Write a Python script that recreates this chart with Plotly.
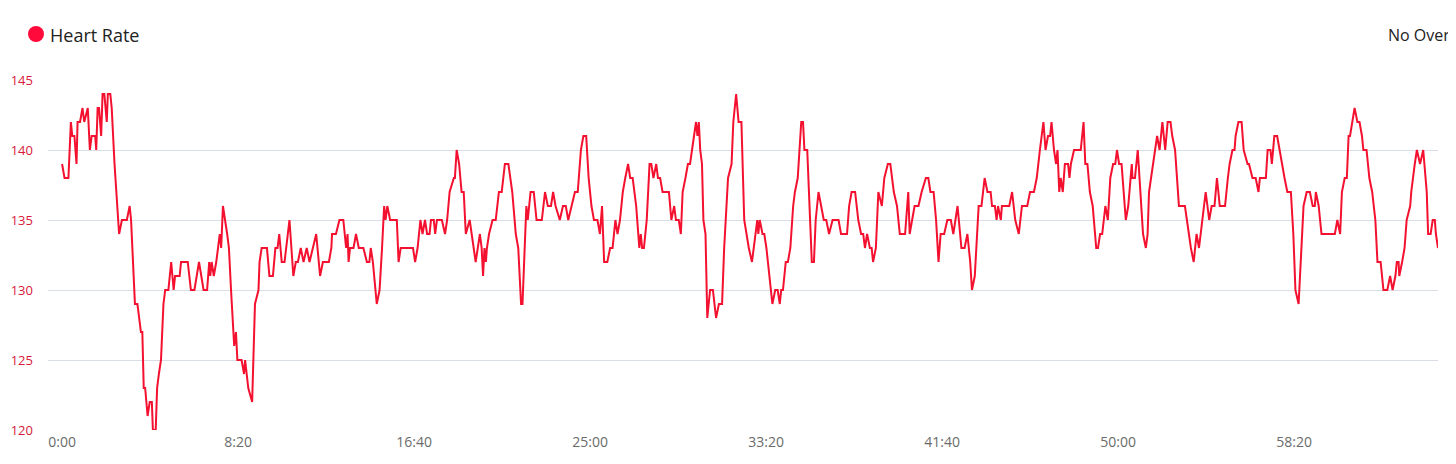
import plotly.graph_objects as go

# elapsed time in seconds and heart rate (bpm)
time_s = [
    0, 7, 18, 25, 29, 35, 41, 44, 51, 58, 63, 73, 79, 84, 94, 97, 101, 105, 111, 115, 120, 127, 130, 137, 141, 149,
    162, 170, 174, 184, 192, 196, 207, 214, 224, 228, 232, 236, 243, 249, 255, 258, 266, 270, 275, 281, 288, 293,
    302, 310, 317, 321, 334, 338, 357, 366, 376, 389, 402, 412, 418, 421, 425, 431, 438, 444, 448, 452, 457, 469,
    474, 480,
    489, 494, 498, 510, 517, 520, 525, 529, 540, 548, 558, 561, 567, 582, 589, 599, 606, 612, 617, 624, 632, 646,
    657, 664, 670, 678, 686, 695, 703, 722, 733, 741, 758, 765, 767, 778, 788, 799, 807, 811, 814, 818, 828, 835,
    843, 856, 866, 873, 877, 883, 894, 902, 909, 915, 919, 924, 932, 951, 956, 962, 989,
    997, 1003, 1010, 1018, 1024, 1031, 1037, 1044, 1048, 1056, 1060, 1065, 1079, 1088, 1094, 1101, 1113, 1116,
    1121, 1128, 1135, 1141, 1147, 1158, 1164, 1170, 1175, 1187, 1192, 1196, 1200, 1204, 1207, 1213, 1223, 1232,
    1241, 1249, 1258, 1268, 1279, 1289, 1296, 1304, 1308, 1319, 1323, 1331, 1340, 1348, 1363, 1372, 1380, 1389,
    1395, 1402, 1414, 1423, 1431, 1438, 1448, 1457, 1465, 1474,
    1481, 1489, 1496, 1504, 1511, 1521, 1528, 1534, 1540, 1549, 1557, 1564, 1572, 1578, 1585, 1593, 1600, 1608,
    1614, 1621, 1631, 1636, 1640, 1644, 1648, 1653, 1661, 1669, 1674, 1680, 1688, 1693, 1699, 1706, 1724, 1731,
    1739, 1744, 1752, 1758, 1763, 1771, 1778, 1784, 1790, 1797, 1801, 1805, 1809, 1813, 1818, 1822, 1828, 1833,
    1841, 1849, 1858, 1866, 1875, 1881, 1892, 1902, 1907, 1915, 1922, 1930, 1938, 1951, 1960, 1970, 1975,
    1978, 1982, 1990, 1995, 2001, 2009, 2014, 2018, 2026, 2033, 2039, 2043, 2048, 2056, 2062, 2069, 2077, 2082,
    2090, 2100, 2105, 2109, 2117, 2124, 2130, 2136, 2141, 2149, 2156, 2164, 2171, 2179, 2189, 2206, 2213, 2230,
    2236, 2243, 2253, 2262, 2270, 2276, 2281, 2287, 2295, 2300, 2304, 2312, 2319, 2329, 2336, 2346, 2353, 2363,
    2372, 2380, 2395, 2404, 2408, 2414, 2422, 2433, 2442, 2454, 2461, 2467, 2476,
    2483, 2490, 2496, 2506, 2515, 2525, 2532, 2544, 2555, 2564, 2572, 2580, 2585, 2593, 2604, 2612, 2621, 2629,
    2638, 2642, 2650, 2655, 2659, 2667, 2670, 2691, 2699, 2708, 2718, 2727, 2742, 2750, 2761, 2769, 2778, 2788,
    2794, 2801, 2807, 2811, 2818, 2824, 2828, 2833, 2837, 2843, 2849, 2858, 2862, 2866, 2875, 2894, 2902, 2907,
    2913, 2920, 2928, 2934, 2938, 2943, 2949, 2955, 2964,
    2971, 2978, 2986, 2992, 2997, 3003, 3010, 3016, 3022, 3029, 3039, 3041, 3048, 3056, 3063, 3071, 3079, 3084,
    3088, 3094, 3105, 3111, 3118, 3126, 3134, 3141, 3149, 3154, 3162, 3173, 3190, 3200, 3207, 3215, 3223, 3230,
    3240, 3249, 3259, 3266, 3274, 3281, 3289, 3304, 3312, 3317, 3325, 3331, 3334, 3342, 3351, 3357, 3368, 3372,
    3382, 3391, 3399, 3403, 3420, 3425, 3433, 3437, 3444, 3452, 3459, 3465,
    3473, 3481, 3491, 3498, 3504, 3513, 3519, 3527, 3536, 3545, 3553, 3559, 3562, 3570, 3578, 3616, 3623, 3631,
    3636, 3644, 3650, 3655, 3659, 3665, 3672, 3680, 3686, 3693, 3697, 3706, 3714, 3722, 3731, 3737, 3746, 3754,
    3765, 3773, 3780, 3788, 3792, 3797, 3799, 3807, 3814, 3820, 3830, 3833, 3837, 3843, 3849, 3858, 3867, 3877,
    3881, 3888, 3894, 3900, 3903, 3909,
]

heart_rate = [
    139, 138, 138, 142, 141, 141, 139, 142, 142, 143, 142, 143, 140, 141, 141, 140, 143, 143, 141, 144, 144, 142, 144, 144, 143, 139,
    134, 135, 135, 135, 136, 135, 129, 129, 127, 127, 123, 123, 121, 122, 122, 120, 120, 123, 124, 125, 129, 130,
    130, 132, 130, 131, 131, 132, 132, 130, 130, 132, 130, 130, 132, 131, 132, 131, 132, 133, 134, 133, 136, 134,
    133, 130,
    126, 127, 125, 125, 124, 125, 124, 123, 122, 129, 130, 132, 133, 133, 131, 131, 133, 133, 134, 132, 132, 135,
    131, 132, 132, 133, 132, 133, 132, 134, 131, 132, 132, 133, 134, 134, 135, 135, 133, 134, 132, 133, 133, 134,
    133, 133, 132, 132, 133, 132, 129, 130, 133, 136, 135, 136, 135, 135, 132, 133, 133,
    133, 132, 133, 135, 134, 135, 134, 134, 135, 135, 134, 135, 135, 134, 135, 137, 138, 138,
    140, 139, 137, 137, 134, 135, 134, 133, 132, 134, 133, 131, 133, 132, 133, 134, 135, 135,
    137, 137, 139, 139, 137, 134, 133, 129, 129, 136, 135, 137, 137, 135, 135, 137, 136, 136,
    137, 136, 135, 136, 136, 135, 136, 137, 137, 140,
    141, 141, 138, 136, 135, 135, 134, 136, 132, 132, 133, 133, 135, 134, 135, 137, 138, 139,
    138, 138, 136, 134, 133, 134, 133, 133, 135, 139, 139, 138, 139, 138, 138, 137, 137, 135,
    136, 135, 135, 134, 137, 138, 139, 139, 140, 141, 142, 141, 142, 140, 139, 135, 134, 128,
    130, 130, 128, 129, 129, 133, 138, 139, 142, 144, 142, 142, 135, 133, 132, 134, 135,
    134, 135, 134, 134, 133, 131, 130, 129, 130, 130, 129, 130, 130, 132, 132, 133, 136, 137,
    138, 142, 142, 140, 140, 136, 132, 132, 135, 137, 136, 135, 135, 134, 135, 135, 134, 134,
    136, 137, 137, 135, 134, 134, 133, 134, 133, 133, 132, 133, 137, 136, 138, 139, 139, 137,
    136, 134, 134, 137, 134, 135, 136, 136, 137, 138, 138, 137, 137,
    135, 132, 134, 134, 135, 135, 134, 136, 133, 133, 134, 132, 130, 131, 136, 136, 138, 137,
    137, 136, 136, 135, 136, 135, 136, 136, 137, 135, 134, 136, 136, 137, 137, 138, 140, 142,
    140, 141, 141, 142, 140, 139, 140, 137, 138, 137, 139, 139, 138, 139, 140, 140, 142, 139,
    139, 137, 136, 134, 133, 133, 134, 134, 136,
    135, 138, 139, 139, 140, 139, 139, 137, 135, 136, 139, 138, 138, 140, 137, 134, 133, 134,
    137, 138, 140, 141, 140, 142, 140, 142, 142, 141, 140, 136, 136, 134, 133, 132, 134, 133,
    135, 137, 135, 136, 136, 138, 136, 136, 138, 139, 140, 140, 141, 142, 142, 140, 139, 139,
    138, 138, 137, 138, 138, 140, 140, 139, 141, 141, 140, 139,
    138, 137, 137, 134, 130, 129, 132, 136, 137, 137, 136, 136, 137, 136, 134, 134, 135, 134,
    137, 138, 138, 141, 141, 142, 143, 142, 142, 141, 140, 140, 138, 137, 135, 132, 132, 130,
    130, 131, 130, 131, 132, 132, 131, 132, 133, 135, 136, 137, 138, 139, 140, 139, 140, 137,
    134, 134, 135, 135, 134, 133,
]

tick_values = [0, 500, 1000, 1500, 2000, 2500, 3000, 3500]
tick_labels = ["0:00", "8:20", "16:40", "25:00", "33:20", "41:40", "50:00", "58:20"]
y_ticks = [120, 125, 130, 135, 140, 145]

RED = "#f3112f"
# the page body has an 8px margin; figure sized to fit the remaining window
OFF = 8
W, H = 1456 - OFF, 464 - OFF
L, R, T, B = 48 - OFF, 18, 80 - OFF, 34
pw, ph = W - L - R, H - T - B


def px_to_paper_x(px):
    return (px - OFF - L) / pw


def px_to_paper_y(py):
    return (H - B - (py - OFF)) / ph


fig = go.Figure()
fig.add_trace(go.Scatter(
    x=time_s, y=heart_rate, mode="lines",
    line=dict(color=RED, width=2),
    name="Heart Rate", showlegend=False, hoverinfo="x+y",
))

fig.update_layout(
    width=W, height=H,
    margin=dict(l=L, r=R, t=T, b=B, pad=0),
    paper_bgcolor="white", plot_bgcolor="white",
    font=dict(family="Open Sans, Noto Sans, sans-serif"),
    xaxis=dict(
        range=[-40, 3909], automargin=False,
        tickmode="array", tickvals=tick_values, ticktext=tick_labels,
        showgrid=False, zeroline=False, showline=False,
        ticks="", tickfont=dict(size=14, color="#6b6b6b"),
        ticklabelstandoff=2,
    ),
    yaxis=dict(
        range=[120, 145], automargin=False,
        tickmode="array", tickvals=y_ticks,
        showgrid=True, gridcolor="#d9dde6", gridwidth=1,
        zeroline=False, showline=False, ticks="",
        tickfont=dict(size=13, color="#d8193a"),
        ticklabelstandoff=14,
    ),
    showlegend=False,
)

# legend-like header
fig.add_shape(
    type="circle", xref="paper", yref="paper",
    xsizemode="pixel", ysizemode="pixel",
    xanchor=px_to_paper_x(36), yanchor=px_to_paper_y(34),
    x0=-8, x1=8, y0=-8, y1=8,
    fillcolor="#ff0a3a", line=dict(width=0),
)
fig.add_annotation(
    text="Heart Rate", xref="paper", yref="paper",
    x=px_to_paper_x(48), y=px_to_paper_y(35),
    xanchor="left", yanchor="middle", showarrow=False,
    font=dict(size=18, color="#222222"),
)
fig.add_annotation(
    text="No Overlay", xref="paper", yref="paper",
    x=px_to_paper_x(1386), y=px_to_paper_y(35),
    xanchor="left", yanchor="middle", showarrow=False,
    font=dict(size=16, color="#222222"),
)

fig.write_html("out.html")
